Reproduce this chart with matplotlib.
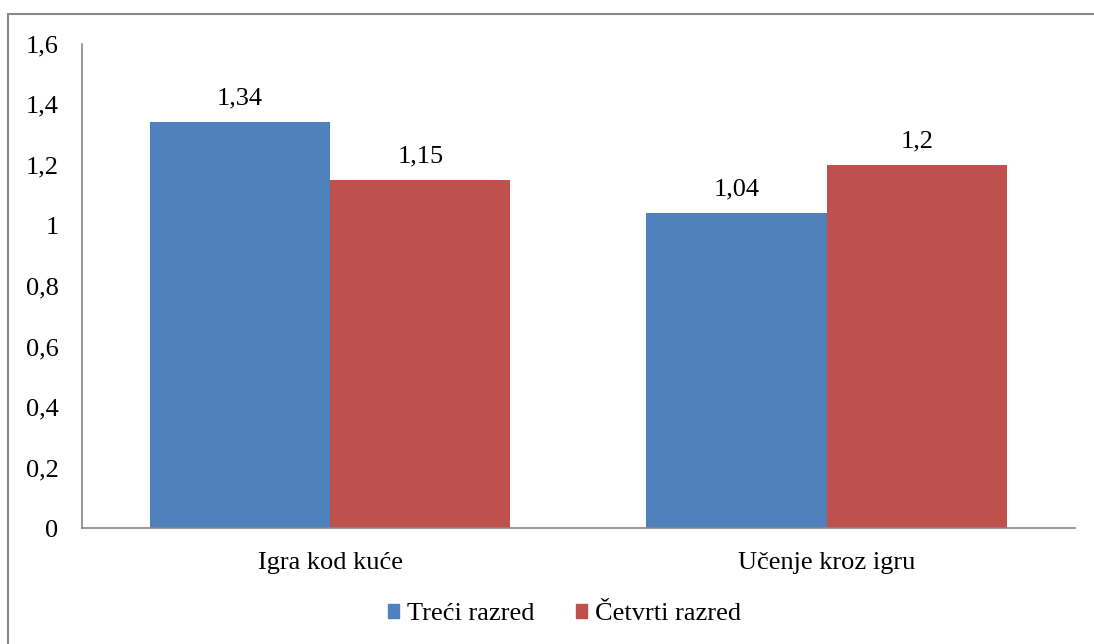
import numpy as np
import matplotlib.pyplot as plt
from matplotlib.patches import Rectangle, Patch
from matplotlib.ticker import FuncFormatter

plt.rcParams['font.family'] = ['Liberation Serif', 'DejaVu Serif']

categories = ["Igra kod kuće", "Učenje kroz igru"]
series_names = ["Treći razred", "Četvrti razred"]
treci = [1.34, 1.04]
cetvrti = [1.15, 1.2]
colors = ["#4f81bd", "#c0504d"]


def comma(v):
    s = f"{v:g}"
    return s.replace(".", ",")


fig = plt.figure(figsize=(10.94, 6.44), dpi=100)
ax = fig.add_axes([0.075, 0.18, 0.9075, 0.752])

x = np.arange(len(categories))
width = 0.363
for i, (vals, name, col) in enumerate(zip([treci, cetvrti], series_names, colors)):
    pos = x + (i - 0.5) * width
    ax.bar(pos, vals, width=width, color=col, label=name, zorder=2)
    for p, v in zip(pos, vals):
        ax.text(p, v + 0.058, comma(v), ha="center", va="baseline", fontsize=19)

ax.set_xlim(-0.5, 1.5)
ax.set_ylim(0, 1.6)
ax.set_yticks(np.arange(0, 1.61, 0.2))
ax.yaxis.set_major_formatter(FuncFormatter(lambda v, _: comma(round(v, 1))))
ax.set_xticks(x)
ax.set_xticklabels(categories)
ax.tick_params(axis="both", length=0, labelsize=19)
ax.tick_params(axis="y", pad=17)
ax.tick_params(axis="x", pad=17)
for s in ["top", "right"]:
    ax.spines[s].set_visible(False)
for s in ["left", "bottom"]:
    ax.spines[s].set_color("#888888")
    ax.spines[s].set_linewidth(1.2)

handles = [Patch(color=c, label=n) for c, n in zip(colors, series_names)]
fig.legend(handles=handles, loc="center", bbox_to_anchor=(0.516, 0.046), ncol=2,
           frameon=False, fontsize=19, handlelength=0.42, handleheight=0.42,
           handletextpad=0.3, columnspacing=1.6)

fig.patches.append(Rectangle((8 / 1094, -0.1), 1.2, 1 - 14 / 644 + 0.1,
                             transform=fig.transFigure, fill=False,
                             edgecolor="#888888", linewidth=1.5))

fig.savefig("out.png", dpi=100)
